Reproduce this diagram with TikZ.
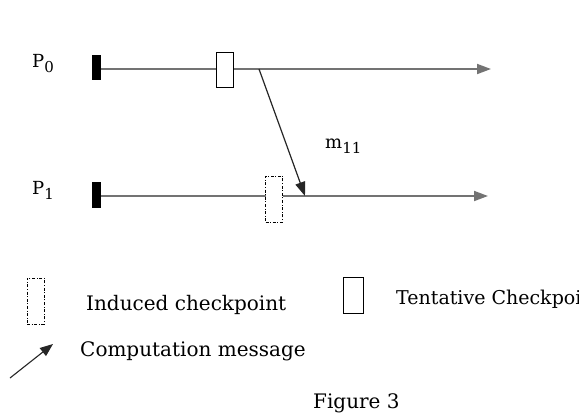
\documentclass[tikz,border=0pt]{standalone}
\usepackage{fontspec}
\setmainfont{DejaVu Serif}
\usetikzlibrary{arrows.meta}
% lowered, slightly smaller index digits
\newcommand{\idx}[1]{\raisebox{-0.28em}{\fontsize{15pt}{15pt}\selectfont #1}}
\begin{document}
\begin{tikzpicture}[x=1pt,y=-1pt,
  procline/.style={draw=black!55, line width=1.8pt},
  msgline/.style={draw=black!85, line width=1.2pt},
  tip/.style={-{Triangle[length=14pt,width=10pt]}},
  startbar/.style={rectangle, fill=black, inner sep=0pt, minimum width=9pt, minimum height=25pt},
  tentbox/.style={rectangle, draw=black, fill=white, line width=0.9pt, inner sep=0pt, minimum width=17pt, minimum height=35pt},
  indbox/.style={rectangle, draw=black, fill=white, line width=0.8pt, inner sep=0pt,
    dash pattern=on 3pt off 1.6pt on 1pt off 1.6pt, minimum width=17pt, minimum height=46pt},
  lbl/.style={inner sep=0pt, anchor=base west, font=\fontsize{18pt}{20pt}\selectfont},
  txt/.style={inner sep=0pt, anchor=base west, font=\fontsize{20pt}{22pt}\selectfont}]
\useasboundingbox (0,0) rectangle (579,413);
\clip (0,0) rectangle (579,413);
\fill[white] (0,0) rectangle (579,413);

% process P0
\node[lbl] (p0) at (32,67) {P\idx{0}};
\node[startbar] (bar0) at (96.5,67.5) {};
\coordinate (end0) at (491,69);
\draw[procline,tip] (bar0.east |- end0) -- (end0);
\node[tentbox] (tent0) at (224.5,69.5) {};

% process P1
\node[lbl] (p1) at (32,194) {P\idx{1}};
\node[startbar, minimum height=26pt] (bar1) at (96.5,195) {};
\coordinate (end1) at (488,196);
\draw[procline,tip] (bar1.east |- end1) -- (end1);
\node[indbox] (ind1) at (274,199) {};

% message m11 from P0 to P1
\coordinate (snd) at (259,69);
\coordinate (rcv) at (305,196);
\draw[msgline,tip] (snd) -- (rcv);
\node[lbl] (m11) at (325,148) {m\idx{11}};

% legend
\node[indbox] (legind) at (35.5,301) {};
\node[txt] (legindtxt) at (86,310) {Induced checkpoint};
\node[tentbox, minimum width=20pt, minimum height=36pt] (legtent) at (353,295) {};
\node[txt, font=\fontsize{19pt}{21pt}\selectfont] (legtenttxt) at (396,304) {Tentative Checkpoint};
\coordinate (la0) at (10,378);
\coordinate (la1) at (53,344);
\draw[msgline, line width=1.1pt, -{Triangle[length=13pt,width=10pt]}] (la0) -- (la1);
\node[txt] (legmsgtxt) at (80,356) {Computation message};

% caption
\node[txt] (cap) at (313,408) {Figure 3};
\end{tikzpicture}
\end{document}
